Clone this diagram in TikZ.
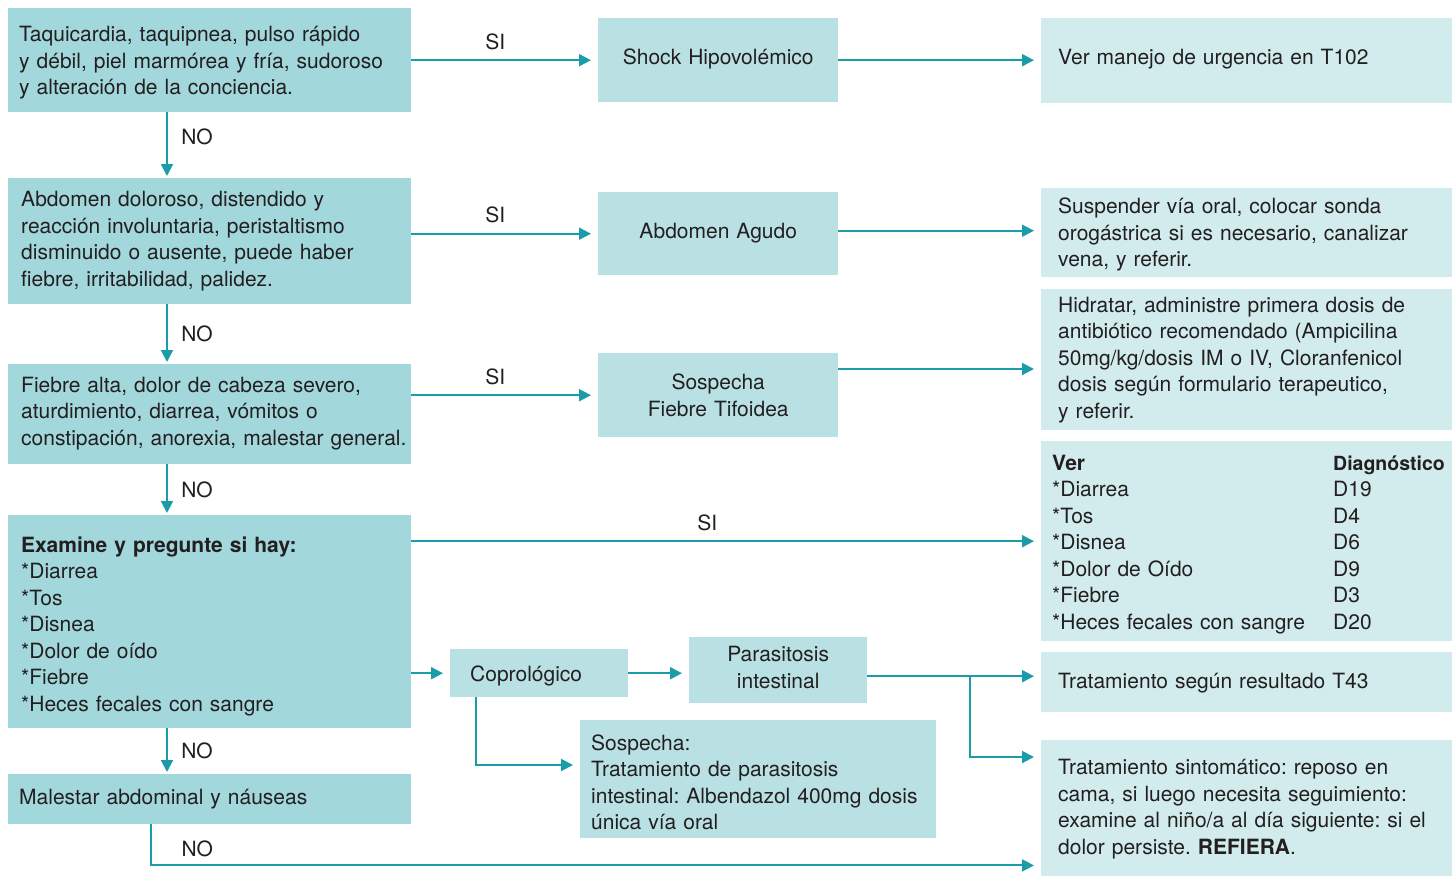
\documentclass[tikz,border=0pt]{standalone}
\usepackage{fontspec}
\setmainfont{TeX Gyre Heros}
\usetikzlibrary{calc,positioning,arrows.meta}
\definecolor{boxdark}{HTML}{A2D7DB}
\definecolor{boxmid}{HTML}{B9E1E4}
\definecolor{boxlight}{HTML}{D2EBEC}
\definecolor{flowline}{HTML}{1A9DA8}
\definecolor{ink}{HTML}{231F20}

\begin{document}
\begin{tikzpicture}[x=1pt,y=-1pt,
  every node/.style={font=\fontsize{21}{26.5}\selectfont\frenchspacing,text=ink},
  step box/.style={rectangle,anchor=north west,inner sep=0pt,align=left,
    execute at end node={\rule[-8pt]{0pt}{8pt}}},
  pad/.style 2 args={execute at begin node={\leftskip=#1pt\rule{0pt}{#2pt}}},
  cpad/.style={align=center,execute at begin node={\rule{0pt}{#1pt}}},
  cond/.style={step box,fill=boxdark,text width=403pt},
  result/.style={step box,fill=boxmid},
  action/.style={step box,fill=boxlight,text width=411pt},
  flow/.style={draw=flowline,line width=2pt,-{Triangle[length=12pt,width=12pt]},shorten >=7pt},
  down/.style={flow,shorten >=2pt}]

  \useasboundingbox (0,0) rectangle (1452,876);

  % conditions (left column)
  \node [cond,pad={11}{24},minimum height=104pt] at (8,8) (cond_1) {Taquicardia, taquipnea, pulso rápido\\y débil, piel marmórea y fría, sudoroso\\y alteración de la conciencia.};
  \node [cond,pad={13}{19},minimum height=126pt] at (8,178) (cond_2) {Abdomen doloroso, distendido y\\reacción involuntaria, peristaltismo\\disminuido o ausente, puede haber\\fiebre, irritabilidad, palidez.};
  \node [cond,pad={13}{17},minimum height=100pt] at (8,364) (cond_3) {Fiebre alta, dolor de cabeza severo,\\aturdimiento, diarrea, vómitos o\\constipación, anorexia, malestar general.};
  \node [cond,pad={13}{28},minimum height=213pt] at (8,515) (cond_4) {\textbf{Examine y pregunte si hay:}\\{*}Diarrea\\{*}Tos\\{*}Disnea\\{*}Dolor de oído\\{*}Fiebre\\{*}Heces fecales con sangre};
  \node [cond,pad={11}{19},minimum height=50pt] at (8,774) (cond_5) {Malestar abdominal y náuseas};

  % diagnoses (middle column)
  \node [result,cpad=17,text width=240pt,minimum height=84pt] at (598,18) (dx_1) {Shock Hipovolémico};
  \node [result,cpad=18,text width=240pt,minimum height=83pt] at (598,192) (dx_2) {Abdomen Agudo};
  \node [result,cpad=24,text width=240pt,minimum height=84pt] at (598,353) (dx_3) {Sospecha\\Fiebre Tifoidea};
  \node [result,pad={20}{25},text width=178pt,minimum height=48pt] at (450,649) (copro) {Coprológico};
  \node [result,cpad=18,text width=178pt,minimum height=66pt] at (689,637) (paras) {Parasitosis\\intestinal};
  \node [result,pad={11}{30},text width=356pt,minimum height=117pt] at (580,720) (sosp) {Sospecha:\\Tratamiento de parasitosis\\intestinal: Albendazol 400mg dosis\\única vía oral};

  % actions (right column)
  \node [action,pad={17}{16},minimum height=85pt] at (1041,18) (act_1) {Ver manejo de urgencia en T102};
  \node [action,pad={17}{23},minimum height=89pt] at (1041,188) (act_2) {Suspender vía oral, colocar sonda\\orogástrica si es necesario, canalizar\\vena, y referir.};
  \node [action,pad={17}{19},minimum height=141pt] at (1041,289) (act_3) {Hidratar, administre primera dosis de\\antibiótico recomendado (Ampicilina\\50mg/kg/dosis IM o IV, Cloranfenicol\\dosis según formulario terapeutico,\\y referir.};
  \node [action,pad={11}{25},minimum height=200pt] at (1041,441) (act_4) {%
    \makebox[281pt][l]{\textbf{Ver}}{\fontsize{19.5}{26.5}\selectfont\textbf{Diagnóstico}}\\
    \makebox[281pt][l]{*Diarrea}D19\\
    \makebox[281pt][l]{*Tos}D4\\
    \makebox[281pt][l]{*Disnea}D6\\
    \makebox[281pt][l]{*Dolor de Oído}D9\\
    \makebox[281pt][l]{*Fiebre}D3\\
    \makebox[281pt][l]{*Heces fecales con sangre}D20};
  \node [action,pad={17}{21},minimum height=60pt] at (1041,652) (act_5) {Tratamiento según resultado T43};
  \node [action,pad={17}{21},minimum height=136pt] at (1041,740) (act_6) {Tratamiento sintomático: reposo en\\cama, si luego necesita seguimiento:\\examine al niño/a al día siguiente: si el\\dolor persiste. \textbf{REFIERA}.};

  % NO branch
  \foreach \a/\b/\p in {cond_1/cond_2/0.37,cond_2/cond_3/0.5,cond_3/cond_4/0.5,cond_4/cond_5/0.5}
    \draw [down] ($(\a.south west)+(159,0)$) -- node [right,pos=\p,xshift=10pt] {NO} ($(\b.north west)+(159,0)$);

  % SI branch
  \draw [flow] (cond_1.east) -- node [above=6pt,pos=0.45] {SI} (dx_1.west);
  \draw [flow] (dx_1.east) -- (dx_1.east -| act_1.west);
  \draw [flow] (cond_2.east |- dx_2.west) -- node [above=6pt,pos=0.45] {SI} (dx_2.west);
  \draw [flow] ($(dx_2.east)+(0,-3)$) coordinate (dx_2_out) -- (dx_2_out -| act_2.west);
  \draw [flow] (cond_3.east |- dx_3.west) -- node [above=6pt,pos=0.45] {SI} (dx_3.west);
  \draw [flow] ($(dx_3.north east)+(0,16)$) coordinate (dx_3_out) -- (dx_3_out -| act_3.west);
  \draw [flow] (cond_4.east |- act_4.west) -- node [above=6pt,pos=0.47] {SI} (act_4.west);

  % stool test
  \draw [flow] (cond_4.east |- copro.west) -- (copro.west);
  \draw [flow] (copro.east) -- (copro.east -| paras.west);
  \draw [flow] ($(paras.east)+(0,6)$) coordinate (paras_out) -- (paras_out -| act_5.west);
  \draw [flow] ($(paras_out)+(103,0)$) |- ($(act_6.north west)+(0,17)$);
  \draw [flow] ($(copro.south west)+(26,0)$) |- ($(sosp.north west)+(0,45)$);

  % last NO
  \draw [flow] ($(cond_5.south west)+(143,0)$) |- node [above=4pt,pos=0.526] {NO} ($(act_6.south west)+(0,-11)$);

\end{tikzpicture}
\end{document}
